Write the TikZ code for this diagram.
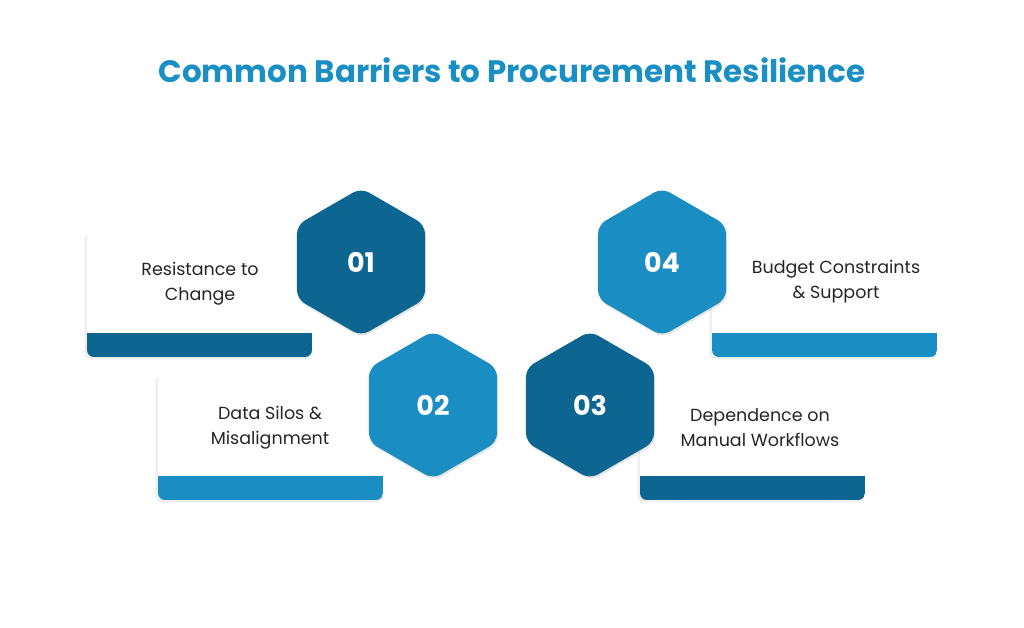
\documentclass[tikz,border=0pt]{standalone}
\usepackage{fontspec}
\setmainfont{Poppins}
\usetikzlibrary{shadows,shapes.geometric}
\definecolor{dk}{HTML}{0C6691}
\definecolor{lt}{HTML}{1A8EC3}
\definecolor{ttl}{HTML}{1A8FC4}
\tikzset{
  card/.style={fill=white,rounded corners=7pt,drop shadow={shadow xshift=-1.5pt,shadow yshift=-2pt,opacity=.12,shadow scale=1.01}},
  hex/.style={regular polygon,regular polygon sides=6,shape border rotate=30,minimum size=148pt,inner sep=0pt,rounded corners=9pt,drop shadow={shadow xshift=1pt,shadow yshift=-2pt,opacity=.2},text=white,font=\bfseries\fontsize{27}{30}\selectfont},
  lbl/.style={align=center,font=\fontsize{17.5}{25}\selectfont,text=black!85}
}
\newcommand{\mycard}[3]{% x1 y1 color
  \fill[card] (#1,#2) rectangle ++(225,125);
  \begin{scope}
  \clip[rounded corners=7pt] (#1,#2) rectangle ++(225,125);
  \fill[#3] (#1,#2+101) rectangle ++(225,24);
  \end{scope}
}
\begin{document}
\begin{tikzpicture}[x=1pt,y=-1pt]
\useasboundingbox (0,0) rectangle (1024,627);
\fill[white] (0,0) rectangle (1024,627);
\node[font=\bfseries\fontsize{31}{36}\selectfont,text=ttl] (title) at (512,70) {Common Barriers to Procurement Resilience};
\mycard{87}{232}{dk}
\mycard{158}{375}{lt}
\mycard{712}{232}{lt}
\mycard{640}{375}{dk}
\node[lbl] (t1) at (200,284) {Resistance to\\Change};
\node[lbl] (t2) at (270,428) {Data Silos \&\\Misalignment};
\node[lbl] (t4) at (836,282) {Budget Constraints\\\& Support};
\node[lbl] (t3) at (760,428) {Dependence on\\Manual Workflows};
\node[hex,fill=dk] (h1) at (361,262) {01};
\node[hex,fill=lt] (h2) at (433,405) {02};
\node[hex,fill=dk] (h3) at (590,405) {03};
\node[hex,fill=lt] (h4) at (662,262) {04};
\end{tikzpicture}
\end{document}
